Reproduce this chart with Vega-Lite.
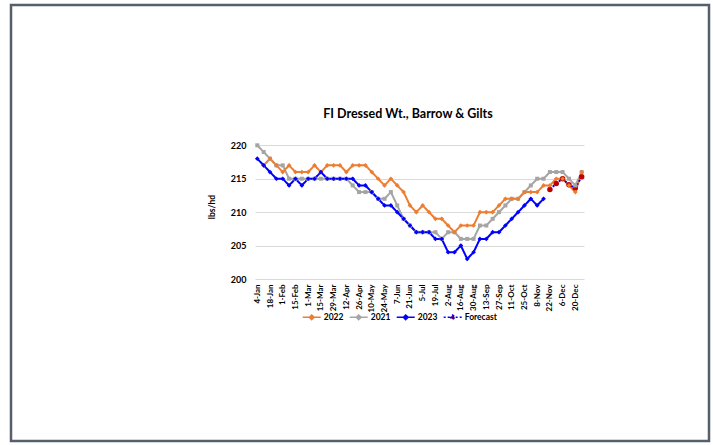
{
  "$schema": "https://vega.github.io/schema/vega-lite/v6.json",
  "width": 698,
  "height": 436,
  "autosize": {"type": "none"},
  "padding": {"left": 11, "top": 5, "right": 4, "bottom": 4},
  "background": "white",
  "config": {
    "view": {"stroke": "#56606B", "strokeWidth": 2.5},
    "font": "Lato",
    "axis": {"labelFont": "Lato", "labelFontWeight": "bold", "labelColor": "#000000", "titleFont": "Lato", "titleFontWeight": "bold", "titleColor": "#000000"},
    "legend": {"labelFont": "Lato", "labelFontWeight": "bold", "labelColor": "#000000", "labelFontSize": 8.5, "padding": 0, "symbolSize": 324}
  },
  "title": {"text": "FI Dressed Wt., Barrow & Gilts", "font": "Lato", "fontSize": 12.5, "fontWeight": "bold", "color": "#000000", "anchor": "middle", "offset": 0, "baseline": "middle", "dx": 48, "dy": 121},
  "data": {"values": [
    {"w": "4-Jan", "2022": null, "2021": 220, "2023": 218, "Forecast": null},
    {"w": "11-Jan", "2022": 217, "2021": 219, "2023": 217, "Forecast": null},
    {"w": "18-Jan", "2022": 218, "2021": 218, "2023": 216, "Forecast": null},
    {"w": "25-Jan", "2022": 217, "2021": 217, "2023": 215, "Forecast": null},
    {"w": "1-Feb", "2022": 216, "2021": 217, "2023": 215, "Forecast": null},
    {"w": "8-Feb", "2022": 217, "2021": 215, "2023": 214, "Forecast": null},
    {"w": "15-Feb", "2022": 216, "2021": 215, "2023": 215, "Forecast": null},
    {"w": "22-Feb", "2022": 216, "2021": 215, "2023": 214, "Forecast": null},
    {"w": "1-Mar", "2022": 216, "2021": 215, "2023": 215, "Forecast": null},
    {"w": "8-Mar", "2022": 217, "2021": 215, "2023": 215, "Forecast": null},
    {"w": "15-Mar", "2022": 216, "2021": 215, "2023": 216, "Forecast": null},
    {"w": "22-Mar", "2022": 217, "2021": 215, "2023": 215, "Forecast": null},
    {"w": "29-Mar", "2022": 217, "2021": 215, "2023": 215, "Forecast": null},
    {"w": "5-Apr", "2022": 217, "2021": 215, "2023": 215, "Forecast": null},
    {"w": "12-Apr", "2022": 216, "2021": 215, "2023": 215, "Forecast": null},
    {"w": "19-Apr", "2022": 217, "2021": 214, "2023": 215, "Forecast": null},
    {"w": "26-Apr", "2022": 217, "2021": 213, "2023": 214, "Forecast": null},
    {"w": "3-May", "2022": 217, "2021": 213, "2023": 214, "Forecast": null},
    {"w": "10-May", "2022": 216, "2021": 213, "2023": 213, "Forecast": null},
    {"w": "17-May", "2022": 215, "2021": 212, "2023": 212, "Forecast": null},
    {"w": "24-May", "2022": 214, "2021": 212, "2023": 211, "Forecast": null},
    {"w": "31-May", "2022": 215, "2021": 213, "2023": 211, "Forecast": null},
    {"w": "7-Jun", "2022": 214, "2021": 211, "2023": 210, "Forecast": null},
    {"w": "14-Jun", "2022": 213, "2021": 209, "2023": 209, "Forecast": null},
    {"w": "21-Jun", "2022": 211, "2021": 208, "2023": 208, "Forecast": null},
    {"w": "28-Jun", "2022": 210, "2021": 207, "2023": 207, "Forecast": null},
    {"w": "5-Jul", "2022": 211, "2021": 207, "2023": 207, "Forecast": null},
    {"w": "12-Jul", "2022": 210, "2021": 207, "2023": 207, "Forecast": null},
    {"w": "19-Jul", "2022": 209, "2021": 207, "2023": 206, "Forecast": null},
    {"w": "26-Jul", "2022": 209, "2021": 206, "2023": 206, "Forecast": null},
    {"w": "2-Aug", "2022": 208, "2021": 207, "2023": 204, "Forecast": null},
    {"w": "9-Aug", "2022": 207, "2021": 207, "2023": 204, "Forecast": null},
    {"w": "16-Aug", "2022": 208, "2021": 206, "2023": 205, "Forecast": null},
    {"w": "23-Aug", "2022": 208, "2021": 206, "2023": 203, "Forecast": null},
    {"w": "30-Aug", "2022": 208, "2021": 206, "2023": 204, "Forecast": null},
    {"w": "6-Sep", "2022": 210, "2021": 208, "2023": 206, "Forecast": null},
    {"w": "13-Sep", "2022": 210, "2021": 208, "2023": 206, "Forecast": null},
    {"w": "20-Sep", "2022": 210, "2021": 209, "2023": 207, "Forecast": null},
    {"w": "27-Sep", "2022": 211, "2021": 210, "2023": 207, "Forecast": null},
    {"w": "4-Oct", "2022": 212, "2021": 211, "2023": 208, "Forecast": null},
    {"w": "11-Oct", "2022": 212, "2021": 212, "2023": 209, "Forecast": null},
    {"w": "18-Oct", "2022": 212, "2021": 212, "2023": 210, "Forecast": null},
    {"w": "25-Oct", "2022": 213, "2021": 213, "2023": 211, "Forecast": null},
    {"w": "1-Nov", "2022": 213, "2021": 214, "2023": 212, "Forecast": null},
    {"w": "8-Nov", "2022": 213, "2021": 215, "2023": 211, "Forecast": null},
    {"w": "15-Nov", "2022": 214, "2021": 215, "2023": 212, "Forecast": null},
    {"w": "22-Nov", "2022": 214, "2021": 216, "2023": null, "Forecast": 213.4},
    {"w": "29-Nov", "2022": 215, "2021": 216, "2023": null, "Forecast": 214.3},
    {"w": "6-Dec", "2022": 215, "2021": 216, "2023": null, "Forecast": 215.0},
    {"w": "13-Dec", "2022": 214, "2021": 215, "2023": null, "Forecast": 214.1},
    {"w": "20-Dec", "2022": 213, "2021": 214, "2023": null, "Forecast": 213.6},
    {"w": "27-Dec", "2022": 216, "2021": 216, "2023": null, "Forecast": 215.3}
  ]},
  "transform": [
    {"fold": ["2022", "2021", "2023", "Forecast"], "as": ["series", "value"]},
    {"filter": "isValid(datum.value)"}
  ],
  "encoding": {
    "x": {
      "field": "w", "type": "ordinal",
      "scale": {"type": "point", "range": [244, 573], "padding": 0.36,
        "domain": ["4-Jan","11-Jan","18-Jan","25-Jan","1-Feb","8-Feb","15-Feb","22-Feb","1-Mar","8-Mar","15-Mar","22-Mar","29-Mar","5-Apr","12-Apr","19-Apr","26-Apr","3-May","10-May","17-May","24-May","31-May","7-Jun","14-Jun","21-Jun","28-Jun","5-Jul","12-Jul","19-Jul","26-Jul","2-Aug","9-Aug","16-Aug","23-Aug","30-Aug","6-Sep","13-Sep","20-Sep","27-Sep","4-Oct","11-Oct","18-Oct","25-Oct","1-Nov","8-Nov","15-Nov","22-Nov","29-Nov","6-Dec","13-Dec","20-Dec","27-Dec"]},
      "axis": {
        "values": ["4-Jan","18-Jan","1-Feb","15-Feb","1-Mar","15-Mar","29-Mar","12-Apr","26-Apr","10-May","24-May","7-Jun","21-Jun","5-Jul","19-Jul","2-Aug","16-Aug","30-Aug","13-Sep","27-Sep","11-Oct","25-Oct","8-Nov","22-Nov","6-Dec","20-Dec"],
        "labelAngle": -90, "grid": false, "domain": false, "ticks": false, "offset": -162, "labelPadding": 5, "labelFontSize": 8, "title": null
      }
    },
    "y": {
      "field": "value", "type": "quantitative",
      "scale": {"domain": [200, 220], "range": [274, 140.3], "zero": false, "nice": false},
      "axis": {
        "values": [200, 205, 210, 215, 220], "grid": true, "gridColor": "#D9D9D9", "gridWidth": 1, "domain": false, "ticks": false,
        "offset": -244, "labelPadding": 9, "labelFontSize": 9,
        "title": "lbs/hd", "titleFontSize": 8.5, "titleX": -43.5, "titleY": 201.5, "titleAngle": -90, "titleBaseline": "middle", "titleAlign": "center"
      }
    }
  },
  "layer": [
    {
      "mark": {"type": "line", "strokeWidth": 2},
      "encoding": {
        "stroke": {"field": "series", "type": "nominal",
          "scale": {"domain": ["2022", "2021", "2023", "Forecast"], "range": ["#ED7D31", "#A5A5A5", "#0000FF", "#0000FF"]},
          "legend": {"title": null, "orient": "none", "legendX": 290.7, "legendY": 302, "direction": "horizontal",
            "symbolType": "M-1,0H1M0,-0.25L0.25,0L0,0.25L-0.25,0Z", "symbolSize": 324, "symbolStrokeWidth": 1.6, "labelOffset": 2, "columnPadding": 2}},
        "strokeDash": {"field": "series", "type": "nominal",
          "scale": {"domain": ["2022", "2021", "2023", "Forecast"], "range": [[1, 0], [1, 0], [1, 0], [2, 2]]},
          "legend": {"title": null, "orient": "none", "legendX": 290.7, "legendY": 302, "direction": "horizontal",
            "symbolType": "M-1,0H1M0,-0.25L0.25,0L0,0.25L-0.25,0Z", "symbolSize": 324, "symbolStrokeWidth": 1.6, "labelOffset": 2, "columnPadding": 2}}
      }
    },
    {
      "transform": [{"filter": "datum.series === 'Forecast'"}],
      "mark": {"type": "point", "filled": true, "opacity": 1, "size": 30},
      "encoding": {
        "fill": {"field": "series", "type": "nominal",
          "scale": {"domain": ["2022", "2021", "2023", "Forecast"], "range": ["#ED7D31", "#A5A5A5", "#0000FF", "#C00000"]},
          "legend": {"title": null, "orient": "none", "legendX": 290.7, "legendY": 302, "direction": "horizontal",
            "symbolType": "M-1,0H1M0,-0.25L0.25,0L0,0.25L-0.25,0Z", "symbolSize": 324, "symbolStrokeWidth": 1.6, "labelOffset": 2, "columnPadding": 2}}
      }
    },
    {
      "transform": [{"filter": "datum.series === '2021'"}],
      "mark": {"type": "point", "filled": true, "opacity": 1, "shape": "square", "size": 16, "fill": "#A5A5A5"}
    },
    {
      "transform": [{"filter": "datum.series === '2022'"}],
      "mark": {"type": "point", "filled": true, "opacity": 1, "shape": "diamond", "size": 22, "fill": "#ED7D31"}
    },
    {
      "transform": [{"filter": "datum.series === '2023'"}],
      "mark": {"type": "point", "filled": true, "opacity": 1, "shape": "diamond", "size": 22, "fill": "#0000FF"}
    }
  ]
}
